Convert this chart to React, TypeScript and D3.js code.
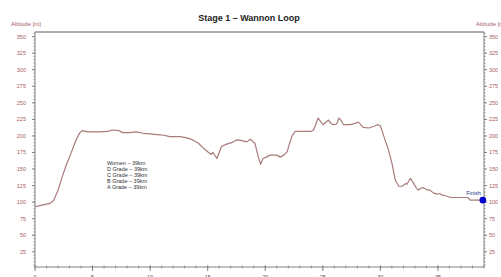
import React from "react";
import * as d3 from "d3";

const distanceKm = [0, 0.5, 1.3, 1.6, 2.0, 2.4, 2.75, 3.0, 3.3, 3.6, 3.9, 4.1, 4.6, 5.5, 6.3, 6.8, 7.3, 7.6, 8.2, 8.8, 9.4, 10.0, 10.6, 11.2, 11.7, 12.6, 13.2, 13.7, 14.2, 14.6, 15.0, 15.3, 15.45, 15.8, 16.0, 16.2, 16.7, 17.1, 17.5, 18.0, 18.4, 18.7, 19.1, 19.4, 19.6, 19.8, 20.1, 20.4, 21.0, 21.3, 21.6, 21.9, 22.1, 22.3, 22.6, 23.0, 23.6, 24.0, 24.2, 24.6, 24.8, 25.0, 25.3, 25.5, 25.7, 25.9, 26.2, 26.4, 26.6, 26.8, 27.4, 27.8, 28.1, 28.5, 29.0, 29.5, 29.8, 30.0, 30.2, 30.4, 30.7, 31.0, 31.3, 31.6, 31.9, 32.2, 32.3, 32.6, 32.9, 33.1, 33.3, 33.5, 33.7, 34.0, 34.3, 34.6, 34.9, 35.2, 35.3, 35.6, 36.1, 37.0, 37.6, 37.8, 38.4, 38.9];
const altitudeM = [93, 95, 98, 102, 118, 140, 158, 168, 182, 195, 205, 208, 206, 206, 207, 209, 208, 205, 205, 206, 204, 203, 202, 201, 199, 199, 197, 194, 189, 182, 176, 172, 175, 166, 175, 184, 188, 190, 194, 193, 191, 195, 189, 168, 157, 166, 168, 171, 171, 168, 171, 176, 188, 199, 207, 207, 207, 207, 209, 227, 222, 217, 221, 224, 219, 217, 218, 227, 223, 217, 217, 219, 221, 213, 212, 215, 217, 215, 205, 194, 179, 159, 133, 124, 124, 128, 127, 136, 128, 122, 118, 121, 122, 119, 118, 114, 112, 113, 111, 110, 107, 107, 107, 103, 103, 103];

const yTickValues = [25, 50, 75, 100, 125, 150, 175, 200, 225, 250, 275, 300, 325, 350];
const xTickValues = [0, 5, 10, 15, 20, 25, 30, 35];
const legendLines = ["Women – 39km", "D Grade – 39km", "C Grade – 39km", "B Grade – 39km", "A Grade – 39km"];
const titleText = "Stage 1 – Wannon Loop";
const axisTitle = "Altitude [m]";
const finishLabel = "Finish";

export default function App() {
  const W = 501, H = 277;
  const left = 35, right = 484, top = 32, bottom = 267;
  const x = d3.scaleLinear().domain([0, 39]).range([left, right]);
  const y = d3.scaleLinear().domain([2, 357]).range([bottom, top]);
  const pts = distanceKm.map((d, i) => [d, altitudeM[i]] as [number, number]);
  const line = d3.line<[number, number]>().x(d => x(d[0])).y(d => y(d[1]));
  const minorY = d3.range(5, 356, 5);
  const minorX = d3.range(0, 40, 1);
  const labelColor = "#a85a66";
  const axisColor = "#808080";
  const font = "'Liberation Sans', Arial, sans-serif";
  const last = pts[pts.length - 1];

  return (
    <svg width={W} height={H} style={{ position: "absolute", left: 0, top: 0, background: "#fff" }} fontFamily={font}>
      <rect x={0} y={0} width={W} height={H} fill="#fff" />
      <text x={249} y={21} textAnchor="middle" fontSize={9} fontWeight="bold" fill="#222">{titleText}</text>
      <line x1={left} x2={right} y1={top} y2={top} stroke="#5a5a5a" strokeWidth={1} />
      <line x1={left} x2={left} y1={top} y2={bottom} stroke={axisColor} strokeWidth={1} />
      <line x1={right} x2={right} y1={top} y2={bottom} stroke={axisColor} strokeWidth={1} />
      <line x1={left} x2={right} y1={bottom} y2={bottom} stroke={axisColor} strokeWidth={1} />
      {minorY.map(v => (
        <g key={"my" + v}>
          <line x1={left - 1.5} x2={left} y1={y(v)} y2={y(v)} stroke={axisColor} strokeWidth={0.8} />
          <line x1={right} x2={right + 1.5} y1={y(v)} y2={y(v)} stroke={axisColor} strokeWidth={0.8} />
        </g>
      ))}
      {yTickValues.map(v => (
        <g key={"y" + v}>
          <line x1={left - 3} x2={left} y1={y(v)} y2={y(v)} stroke={axisColor} strokeWidth={1} />
          <line x1={right} x2={right + 3} y1={y(v)} y2={y(v)} stroke={axisColor} strokeWidth={1} />
          <text x={left - 9} y={y(v) + 2} textAnchor="end" fontSize={5.5} fill={labelColor}>{v}</text>
          <text x={right + 5} y={y(v) + 2} textAnchor="start" fontSize={5.5} fill={labelColor}>{v}</text>
        </g>
      ))}
      <text x={11} y={26} fontSize={6} fill={labelColor}>{axisTitle}</text>
      <text x={476} y={26} fontSize={6} fill={labelColor}>{axisTitle}</text>
      {minorX.map(v => (
        <line key={"mx" + v} x1={x(v)} x2={x(v)} y1={bottom - 1.5} y2={bottom + 1.5} stroke={axisColor} strokeWidth={0.8} />
      ))}
      {xTickValues.map(v => (
        <g key={"x" + v}>
          <line x1={x(v)} x2={x(v)} y1={bottom - 1.5} y2={bottom + 4} stroke={axisColor} strokeWidth={1} />
          <text x={x(v)} y={279} textAnchor="middle" fontSize={5.5} fill="#555">{v}</text>
        </g>
      ))}
      <path d={line(pts) || ""} fill="none" stroke="#a87b7b" strokeWidth={1.2} strokeLinejoin="round" />
      <circle cx={x(last[0])} cy={y(last[1])} r={3.3} fill="#0000cc" />
      <text x={x(last[0]) - 2} y={y(last[1]) - 5} textAnchor="end" fontSize={5.5} fill="#223388">{finishLabel}</text>
      {legendLines.map((t, i) => (
        <text key={t} x={107} y={165 + i * 6} fontSize={5.5} fill="#333">{t}</text>
      ))}
    </svg>
  );
}
